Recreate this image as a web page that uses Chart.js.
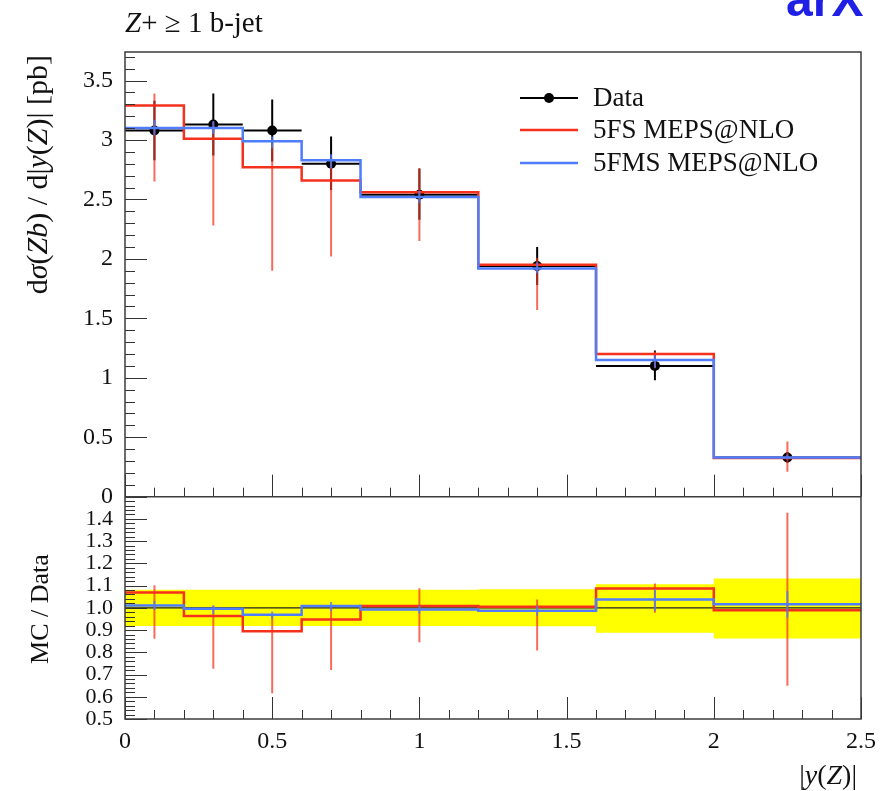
<!DOCTYPE html>
<html>
<head>
<meta charset="utf-8">
<title>Z + b-jet, |y(Z)|</title>
<script src="https://cdn.jsdelivr.net/npm/chart.js@4.4.1/dist/chart.umd.min.js"></script>
<style>
  html, body { margin: 0; padding: 0; background: #fff; }
  #zbChart { display: block; }
</style>
</head>
<body>
<canvas id="zbChart" width="884" height="791"></canvas>
<script>
// binning in |y(Z)|
const binEdges   = [0, 0.2, 0.4, 0.6, 0.8, 1.2, 1.6, 2.0, 2.5];
const binCentres = [0.1, 0.3, 0.5, 0.7, 1.0, 1.4, 1.8, 2.25];

const seriesNames = ['Data', '5FS MEPS@NLO', '5FMS MEPS@NLO'];

// upper panel: dsigma/d|y(Z)| [pb]
const dataValues  = [3.08, 3.13, 3.08, 2.80, 2.54, 1.94, 1.10, 0.33];
const dataErrLow  = [2.83, 2.87, 2.82, 2.58, 2.33, 1.78, 0.98, 0.285];
const dataErrHigh = [3.33, 3.39, 3.34, 3.03, 2.76, 2.10, 1.23, 0.375];

const fsValues  = [3.29, 3.01, 2.77, 2.66, 2.56, 1.95, 1.20, 0.325];
const fsErrLow  = [2.65, 2.28, 1.90, 2.02, 2.15, 1.57, 1.08, 0.21];
const fsErrHigh = [3.39, 3.15, 2.97, 2.82, 2.76, 2.01, 1.22, 0.465];

const fmsValues  = [3.10, 3.10, 2.99, 2.83, 2.52, 1.92, 1.15, 0.33];
const fmsErrLow  = [3.04, 3.05, 2.93, 2.76, 2.47, 1.88, 1.085, 0.315];
const fmsErrHigh = [3.17, 3.16, 3.03, 2.88, 2.57, 1.97, 1.19, 0.355];

// lower panel: MC / Data
const dataRatio = [1.0, 1.0, 1.0, 1.0, 1.0, 1.0, 1.0, 1.0];
const bandLow   = [0.918, 0.918, 0.918, 0.918, 0.918, 0.917, 0.888, 0.862];
const bandHigh  = [1.081, 1.081, 1.081, 1.081, 1.081, 1.084, 1.106, 1.132];

const fsRatio     = [1.069, 0.963, 0.895, 0.948, 1.008, 1.005, 1.087, 0.989];
const fsRatioLow  = [0.861, 0.726, 0.616, 0.720, 0.845, 0.808, 0.978, 0.650];
const fsRatioHigh = [1.102, 1.008, 0.965, 1.008, 1.088, 1.038, 1.110, 1.428];

const fmsRatio     = [1.011, 0.996, 0.969, 1.008, 0.993, 0.987, 1.038, 1.016];
const fmsRatioLow  = [0.990, 0.972, 0.951, 0.986, 0.975, 0.965, 0.986, 0.956];
const fmsRatioHigh = [1.031, 1.012, 0.984, 1.026, 1.010, 1.008, 1.084, 1.076];

// axis ticks
const xTickValues     = [0, 0.5, 1, 1.5, 2, 2.5];
const yTickValues     = [0, 0.5, 1, 1.5, 2, 2.5, 3, 3.5];
const ratioTickValues = [0.5, 0.6, 0.7, 0.8, 0.9, 1.0, 1.1, 1.2, 1.3, 1.4];

const RED = '#f5301c';
const RED_ERR = 'rgba(245, 48, 28, 0.72)';
const BLUE = '#4f7dfb';
const BLUE_ERR = 'rgba(79, 125, 251, 0.8)';
const SERIF = '"Liberation Serif", "DejaVu Serif", serif';

// histogram outline: one point per left edge plus the last right edge
function steps(values) {
  return binEdges.map((x, i) => ({ x: x, y: values[Math.min(i, values.length - 1)] }));
}
// horizontal bin-width bars, broken between bins
function xBars(values) {
  const pts = [];
  values.forEach((v, i) => {
    pts.push({ x: binEdges[i], y: v }, { x: binEdges[i + 1], y: v }, { x: binEdges[i + 1], y: null });
  });
  return pts;
}
// vertical error bars at the bin centres
function yBars(lo, hi) {
  const pts = [];
  lo.forEach((v, i) => {
    pts.push({ x: binCentres[i], y: v }, { x: binCentres[i], y: hi[i] }, { x: binCentres[i], y: null });
  });
  return pts;
}
function dots(values) {
  return values.map((v, i) => ({ x: binCentres[i], y: v }));
}

function font(size, italic) {
  return (italic ? 'italic ' : '') + size + 'px ' + SERIF;
}
// parts: [text, italic?]
function richWidth(ctx, parts, size) {
  let w = 0;
  parts.forEach(p => { ctx.font = font(size, p[1]); w += ctx.measureText(p[0]).width; });
  return w;
}
function richDraw(ctx, parts, x, y, size) {
  parts.forEach(p => {
    ctx.font = font(size, p[1]);
    ctx.fillText(p[0], x, y);
    x += ctx.measureText(p[0]).width;
  });
}

const frameAndTicks = {
  id: 'frameAndTicks',
  afterDatasetsDraw(chart) {
    const { ctx, chartArea: a } = chart;
    const x = chart.scales.x, y = chart.scales.y, yr = chart.scales.yr;
    const split = y.bottom;
    ctx.save();
    ctx.strokeStyle = '#333';
    ctx.lineWidth = 1;
    const seg = (x1, y1, x2, y2) => {
      ctx.beginPath(); ctx.moveTo(x1, y1); ctx.lineTo(x2, y2); ctx.stroke();
    };
    // y ticks, upper panel (minor every 0.1)
    for (let k = 0; k * 0.1 <= y.max + 1e-9; k++) {
      const py = Math.round(y.getPixelForValue(k * 0.1)) + 0.5;
      seg(a.left, py, a.left + (k % 5 === 0 ? 22 : 10), py);
    }
    // y ticks, ratio panel (minor every 0.02)
    for (let k = 25; k <= 75; k++) {
      const py = Math.round(yr.getPixelForValue(k * 0.02)) + 0.5;
      seg(a.left, py, a.left + (k % 5 === 0 ? 22 : 10), py);
    }
    // x ticks on the bottom edge of both panels
    for (let k = 0; k <= 25; k++) {
      const px = Math.round(x.getPixelForValue(k * 0.1)) + 0.5;
      const len = k % 5 === 0 ? 22 : 9;
      seg(px, split, px, split - len);
      seg(px, a.bottom, px, a.bottom - len);
    }
    // frames
    ctx.lineWidth = 1.5;
    ctx.strokeStyle = '#3c3c3c';
    ctx.strokeRect(a.left, a.top, a.right - a.left, a.bottom - a.top);
    seg(a.left, split, a.right, split);
    ctx.restore();
  },
  afterDraw(chart) {
    const { ctx, chartArea: a } = chart;
    ctx.save();
    ctx.fillStyle = '#111';
    ctx.textBaseline = 'alphabetic';
    ctx.textAlign = 'left';

    // panel title
    richDraw(ctx, [['Z', true], ['+ \u2265 1 b-jet', false]], a.left, 32, 29);

    // y title, upper panel (reads upwards, ends at the top of the frame)
    const yTitle = [['d', false], ['\u03c3', true], ['(', false], ['Zb', true], [') / d|', false],
                    ['y', true], ['(', false], ['Z', true], [')| [pb]', false]];
    const wY = richWidth(ctx, yTitle, 30);
    ctx.save();
    ctx.translate(47, a.top + 3);
    ctx.rotate(-Math.PI / 2);
    richDraw(ctx, yTitle, -wY, 0, 30);
    ctx.restore();

    // y title, ratio panel
    const rTitle = [['MC / Data', false]];
    const wR = richWidth(ctx, rTitle, 26);
    ctx.save();
    ctx.translate(48, 609);
    ctx.rotate(-Math.PI / 2);
    richDraw(ctx, rTitle, -wR / 2, 0, 26);
    ctx.restore();

    // x title
    const xTitle = [['|', false], ['y', true], ['(', false], ['Z', true], [')|', false]];
    const wX = richWidth(ctx, xTitle, 28);
    richDraw(ctx, xTitle, a.right - 4 - wX, 784, 28);

    // legend
    const colours = ['#000', RED, BLUE];
    const rowY = [98, 130, 163];
    ctx.textBaseline = 'middle';
    seriesNames.forEach((name, i) => {
      ctx.strokeStyle = colours[i];
      ctx.lineWidth = i === 0 ? 2 : 2.5;
      ctx.beginPath(); ctx.moveTo(520, rowY[i]); ctx.lineTo(578, rowY[i]); ctx.stroke();
      if (i === 0) {
        ctx.fillStyle = '#000';
        ctx.beginPath(); ctx.arc(549, rowY[i], 5, 0, Math.PI * 2); ctx.fill();
      }
      ctx.fillStyle = '#111';
      ctx.font = font(27, false);
      ctx.fillText(name, 593, rowY[i] + 1);
    });

    // cropped slide label in the corner
    ctx.fillStyle = '#1f1fe6';
    ctx.textBaseline = 'alphabetic';
    ctx.font = 'bold 48px "Liberation Sans", sans-serif';
    ctx.fillText('arX', 786, 16);
    ctx.restore();
  }
};

const lineBase = { pointRadius: 0, fill: false, tension: 0, spanGaps: false };

new Chart(document.getElementById('zbChart'), {
  type: 'line',
  data: {
    datasets: [
      // ratio panel: yellow data uncertainty band
      Object.assign({}, lineBase, { data: steps(bandHigh), yAxisID: 'yr', stepped: true, borderWidth: 0,
        backgroundColor: '#ffff00', fill: '+1', order: 40 }),
      Object.assign({}, lineBase, { data: steps(bandLow), yAxisID: 'yr', stepped: true, borderWidth: 0, order: 41 }),
      Object.assign({}, lineBase, { data: steps(dataRatio), yAxisID: 'yr', stepped: true, borderColor: '#222', borderWidth: 1.2, order: 38 }),

      // upper panel: data
      Object.assign({}, lineBase, { label: seriesNames[0], data: xBars(dataValues), yAxisID: 'y', borderColor: '#000', borderWidth: 2, order: 30 }),
      Object.assign({}, lineBase, { data: yBars(dataErrLow, dataErrHigh), yAxisID: 'y', borderColor: '#000', borderWidth: 2, order: 29 }),
      Object.assign({}, lineBase, { data: dots(dataValues), yAxisID: 'y', showLine: false, pointRadius: 5,
        pointBackgroundColor: '#000', pointBorderWidth: 0, order: 28 }),

      // upper panel: 5FS
      Object.assign({}, lineBase, { label: seriesNames[1], data: steps(fsValues), yAxisID: 'y', stepped: true, borderColor: RED, borderWidth: 2.5, order: 22 }),
      Object.assign({}, lineBase, { data: yBars(fsErrLow, fsErrHigh), yAxisID: 'y', borderColor: RED_ERR, borderWidth: 2, order: 21 }),
      // upper panel: 5FMS
      Object.assign({}, lineBase, { label: seriesNames[2], data: steps(fmsValues), yAxisID: 'y', stepped: true, borderColor: BLUE, borderWidth: 2.5, order: 18 }),
      Object.assign({}, lineBase, { data: yBars(fmsErrLow, fmsErrHigh), yAxisID: 'y', borderColor: BLUE_ERR, borderWidth: 2, order: 17 }),

      // ratio panel: MC / Data
      Object.assign({}, lineBase, { data: steps(fsRatio), yAxisID: 'yr', stepped: true, borderColor: RED, borderWidth: 2.5, order: 22 }),
      Object.assign({}, lineBase, { data: yBars(fsRatioLow, fsRatioHigh), yAxisID: 'yr', borderColor: RED_ERR, borderWidth: 2, order: 21 }),
      Object.assign({}, lineBase, { data: steps(fmsRatio), yAxisID: 'yr', stepped: true, borderColor: BLUE, borderWidth: 2.5, order: 18 }),
      Object.assign({}, lineBase, { data: yBars(fmsRatioLow, fmsRatioHigh), yAxisID: 'yr', borderColor: BLUE_ERR, borderWidth: 2, order: 17 })
    ]
  },
  options: {
    responsive: false,
    animation: false,
    events: [],
    layout: { padding: { top: 52, right: 17, bottom: 0, left: 0 } },
    plugins: {
      legend: { display: false },
      tooltip: { enabled: false },
      title: { display: false }
    },
    scales: {
      x: {
        type: 'linear', position: 'bottom', min: 0, max: 2.5,
        grid: { display: false, drawTicks: false }, border: { display: false },
        afterBuildTicks: s => { s.ticks = xTickValues.map(v => ({ value: v })); },
        afterFit: s => { s.height = 72; },
        ticks: { color: '#111', font: { family: SERIF, size: 24 }, padding: 8, maxRotation: 0, autoSkip: false,
          callback: v => String(v) }
      },
      y: {
        type: 'linear', position: 'left', stack: 'panels', stackWeight: 2, weight: 1,
        min: 0, max: 3.74,
        grid: { display: false, drawTicks: false }, border: { display: false },
        afterBuildTicks: s => { s.ticks = yTickValues.map(v => ({ value: v })); },
        afterFit: s => { s.width = 125; },
        ticks: { color: '#111', font: { family: SERIF, size: 24 }, padding: 12, autoSkip: false, callback: v => String(v) }
      },
      yr: {
        type: 'linear', position: 'left', stack: 'panels', stackWeight: 1, weight: 0,
        min: 0.5, max: 1.5,
        grid: { display: false, drawTicks: false }, border: { display: false },
        afterBuildTicks: s => { s.ticks = ratioTickValues.map(v => ({ value: v })); },
        afterFit: s => { s.width = 125; },
        ticks: { color: '#111', font: { family: SERIF, size: 22 }, padding: 12, autoSkip: false, callback: v => v.toFixed(1) }
      }
    }
  },
  plugins: [frameAndTicks]
});
</script>
</body>
</html>
